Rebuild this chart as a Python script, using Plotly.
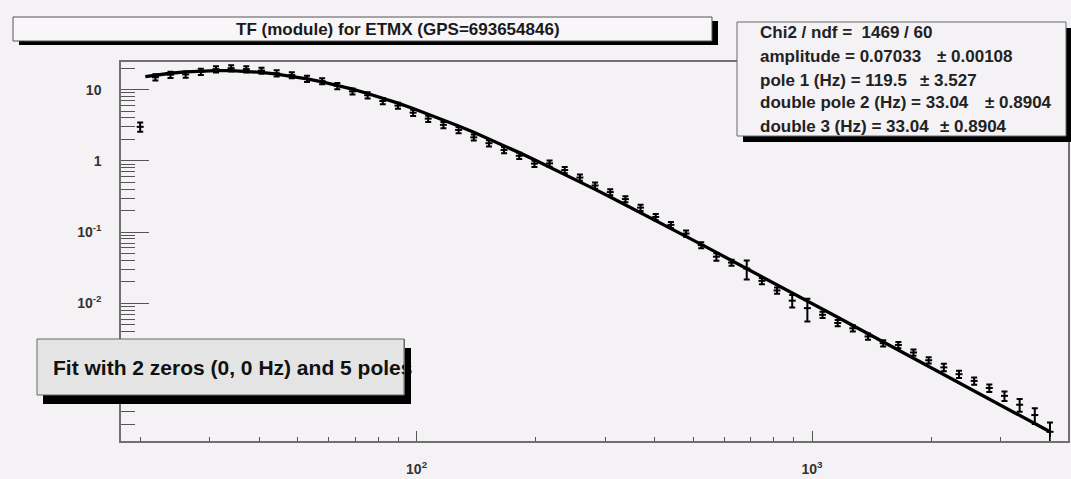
import plotly.graph_objects as go

# ---------------- data ----------------
freqs = [20.0, 21.85, 23.86, 26.06, 28.47, 31.10, 33.97, 37.10, 40.53, 44.27,
         48.35, 52.82, 57.69, 63.02, 68.84, 75.19, 82.13, 89.71, 98.0, 107.0,
         116.9, 127.7, 139.5, 152.4, 166.4, 181.8, 198.6, 216.9, 236.9, 258.8,
         282.7, 308.8, 337.3, 368.4, 402.4, 439.6, 480.2, 524.5, 572.9, 625.8,
         683.6, 746.7, 815.6, 890.9, 973.1, 1063, 1161, 1268, 1385, 1513,
         1653, 1805, 1972, 2154, 2353, 2570, 2807, 3066, 3349, 3658, 3996]

tf_module = [3.0, 14.92, 16.20, 16.36, 17.85, 19.39, 20.0, 19.39, 18.48, 16.93,
             15.99, 14.20, 13.16, 11.23, 9.45, 8.33, 6.92, 5.96, 4.74, 3.91,
             3.196, 2.715, 2.136, 1.767, 1.420, 1.175, 0.913, 0.920, 0.7414, 0.5822,
             0.4502, 0.3637, 0.2899, 0.2199, 0.1628, 0.1260, 0.0952, 0.0655, 0.04504, 0.03720,
             0.03071, 0.02059, 0.01512, 0.01086, 0.008537, 0.006874, 0.005280, 0.004444, 0.003413, 0.002745,
             0.002593, 0.002035, 0.001581, 0.001256, 0.001009, 0.000811, 0.000645, 0.000500, 0.000375, 0.0002687,
             0.0001564]

err_rel = [0.15, 0.1, 0.1, 0.1, 0.1, 0.1, 0.1, 0.1, 0.1, 0.1,
           0.1, 0.1, 0.1, 0.1, 0.1, 0.1, 0.1, 0.1, 0.1, 0.1,
           0.1, 0.1, 0.1, 0.1, 0.1, 0.1, 0.1, 0.1, 0.1, 0.1,
           0.1, 0.1, 0.1, 0.1, 0.1, 0.1, 0.1, 0.1, 0.12, 0.1,
           0.3, 0.1, 0.1, 0.2, 0.35, 0.1, 0.1, 0.1, 0.1, 0.1,
           0.1, 0.1, 0.1, 0.12, 0.12, 0.12, 0.12, 0.15, 0.2, 0.25,
           0.35]

fit_freqs = [20.6, 21.85, 23.86, 26.06, 28.47, 31.10, 33.97, 37.10, 40.53, 44.27,
             48.35, 52.82, 57.69, 63.02, 68.84, 75.19, 82.13, 89.71, 98.0, 107.0,
             116.9, 127.7, 139.5, 152.4, 166.4, 181.8, 198.6, 216.9, 236.9, 258.8,
             282.7, 308.8, 337.3, 368.4, 402.4, 439.6, 480.2, 524.5, 572.9, 625.8,
             683.6, 746.7, 815.6, 890.9, 973.1, 1063, 1161, 1268, 1385, 1513,
             1653, 1805, 1972, 2154, 2353, 2570, 2807, 3066, 3349, 3658, 3996]

fit_module = [15.23, 15.99, 16.96, 17.74, 18.27, 18.51, 18.45, 18.09, 17.44, 16.55,
              15.45, 14.20, 12.86, 11.49, 10.13, 8.82, 7.58, 6.45, 5.44, 4.54,
              3.755, 3.08, 2.51, 2.03, 1.631, 1.303, 1.036, 0.820, 0.6457, 0.5070,
              0.3968, 0.3096, 0.2411, 0.1873, 0.1451, 0.1123, 0.0869, 0.0671, 0.0517, 0.0399,
              0.0307, 0.02363, 0.01819, 0.01398, 0.01075, 0.00826, 0.00635, 0.00487, 0.003743, 0.002873,
              0.002207, 0.001693, 0.0013, 0.000998, 0.000766, 0.000588, 0.000451, 0.000346, 0.0002657, 0.0002038,
              0.0001564]

x_tick_vals = [100, 1000]
x_tick_text = ["10<sup>2</sup>", "10<sup>3</sup>"]
x_minor_vals = [20, 30, 40, 50, 60, 70, 80, 90, 200, 300, 400, 500, 600, 700, 800, 900,
                2000, 3000, 4000]
y_tick_vals = [1e-2, 1e-1, 1, 10]
y_tick_text = ["10<sup>-2</sup>", "10<sup>-1</sup>", "1", "10"]
y_minor_vals = [2e-4, 3e-4, 4e-4, 5e-4, 6e-4, 7e-4, 8e-4, 9e-4, 1e-3,
                2e-3, 3e-3, 4e-3, 5e-3, 6e-3, 7e-3, 8e-3, 9e-3,
                2e-2, 3e-2, 4e-2, 5e-2, 6e-2, 7e-2, 8e-2, 9e-2,
                0.2, 0.3, 0.4, 0.5, 0.6, 0.7, 0.8, 0.9,
                2, 3, 4, 5, 6, 7, 8, 9, 20]

title_text = "TF (module) for ETMX (GPS=693654846)"
stats_left = ["Chi2 / ndf =  1469 / 60",
              "amplitude = 0.07033",
              "pole 1 (Hz) = 119.5",
              "double pole 2 (Hz) = 33.04",
              "double 3 (Hz) = 33.04"]
stats_err = ["", "\u00b1 0.00108", "\u00b1 3.527", "\u00b1 0.8904", "\u00b1 0.8904"]
fit_label = "Fit with 2 zeros (0, 0 Hz) and 5 poles"

# ---------------- layout geometry (pixels) ----------------
W, H = 1071, 479
L, R, T, B = 121, 1068, 62, 441
BG = "rgb(245,242,246)"
FONT = "Liberation Sans, Arial, sans-serif"


def px(x):
    return (x - L) / (R - L)


def py(y):
    return (B - y) / (B - T)


fig = go.Figure()

fig.add_trace(go.Scatter(
    x=freqs, y=tf_module, mode="markers",
    marker=dict(symbol="line-ew", size=5, color="black",
                line=dict(color="black", width=2)),
    error_y=dict(type="data", symmetric=False,
                 array=[v * e for v, e in zip(tf_module, err_rel)],
                 arrayminus=[v * e for v, e in zip(tf_module, err_rel)],
                 color="black", thickness=2, width=3),
    showlegend=False, hoverinfo="skip"))

fig.add_trace(go.Scatter(
    x=fit_freqs, y=fit_module, mode="lines",
    line=dict(color="black", width=3.3),
    showlegend=False, hoverinfo="skip"))

shapes = []


def rect(x0, y0, x1, y1, fill, line_color=None, lw=1):
    shapes.append(dict(type="rect", xref="paper", yref="paper",
                       x0=px(x0), x1=px(x1), y0=py(y1), y1=py(y0),
                       fillcolor=fill, layer="above",
                       line=dict(color=line_color or fill, width=lw if line_color else 0)))


# title pave
rect(19, 41, 718, 45, "black")
rect(712, 21, 718, 45, "black")
rect(13, 17, 712, 41, "rgb(248,246,248)", "#555", 1)
# stats pave
rect(743, 136, 1071, 142, "black")
rect(1066, 28, 1071, 142, "black")
rect(737, 22, 1066, 136, BG, "#666", 1)
# fit label pave
rect(43, 395, 411, 404, "black")
rect(37, 339, 404, 395, "rgb(228,228,228)", "#666", 1)

annotations = []
annotations.append(dict(text=title_text, xref="paper", yref="paper",
                        x=px(398), y=py(29), xanchor="center", yanchor="middle",
                        showarrow=False,
                        font=dict(family=FONT, size=17, color="#1a1a1a", weight="bold")))

line_y = [33, 57, 80, 103, 126]
err_x = [None, 935, 918, 983, 938]
for i, txt in enumerate(stats_left):
    annotations.append(dict(text=txt, xref="paper", yref="paper",
                            x=px(758), y=py(line_y[i]), xanchor="left", yanchor="middle",
                            showarrow=False,
                            font=dict(family=FONT, size=17, color="#222", weight="bold")))
    if stats_err[i]:
        annotations.append(dict(text=stats_err[i], xref="paper", yref="paper",
                                x=px(err_x[i]), y=py(line_y[i]), xanchor="left",
                                yanchor="middle", showarrow=False,
                                font=dict(family=FONT, size=17, color="#222",
                                          weight="bold")))

annotations.append(dict(text=fit_label, xref="paper", yref="paper",
                        x=px(51), y=py(367), xanchor="left", yanchor="middle",
                        showarrow=False,
                        font=dict(family=FONT, size=21, color="#111", weight="bold")))
# right-hand shadow of the fit pave, drawn over the label text (clips the last letter)
annotations.append(dict(text="\u00a0", xref="paper", yref="paper",
                        x=px(404), y=py(348), xanchor="left", yanchor="top",
                        width=7, height=56, bgcolor="black", borderpad=0, borderwidth=0,
                        showarrow=False, font=dict(size=2)))
annotations.append(dict(text="\u00a0", xref="paper", yref="paper",
                        x=px(403.5), y=py(339), xanchor="left", yanchor="top",
                        width=1, height=56, bgcolor="#666", borderpad=0, borderwidth=0,
                        showarrow=False, font=dict(size=2)))

axis_common = dict(type="log", showgrid=False, zeroline=False,
                   showline=True, mirror=True, linecolor="#707070", linewidth=1.5,
                   ticks="inside", tickcolor="#555", tickwidth=1)

fig.update_layout(
    width=W, height=H,
    margin=dict(l=L, r=W - R, t=T, b=H - B, autoexpand=False),
    paper_bgcolor=BG, plot_bgcolor=BG,
    xaxis=dict(**axis_common, range=[1.2525, 3.6472],
               tickvals=x_tick_vals, ticktext=x_tick_text, ticklen=10,
               ticklabelstandoff=14,
               tickfont=dict(family=FONT, size=14, color="#333", weight="bold"),
               minor=dict(tickvals=x_minor_vals, ticks="inside", ticklen=4,
                          tickcolor="#555", tickwidth=1)),
    yaxis=dict(**axis_common, range=[-3.935, 1.3876],
               tickvals=y_tick_vals, ticktext=y_tick_text, ticklen=28,
               ticklabelstandoff=15,
               tickfont=dict(family=FONT, size=14, color="#333", weight="bold"),
               minor=dict(tickvals=y_minor_vals, ticks="inside", ticklen=14,
                          tickcolor="#555", tickwidth=1)),
    shapes=shapes,
    annotations=annotations,
)

fig.write_html("out.html",
               config={"displayModeBar": False},
               post_script="document.body.style.margin='0px';"
                           "document.body.style.overflow='hidden';")
